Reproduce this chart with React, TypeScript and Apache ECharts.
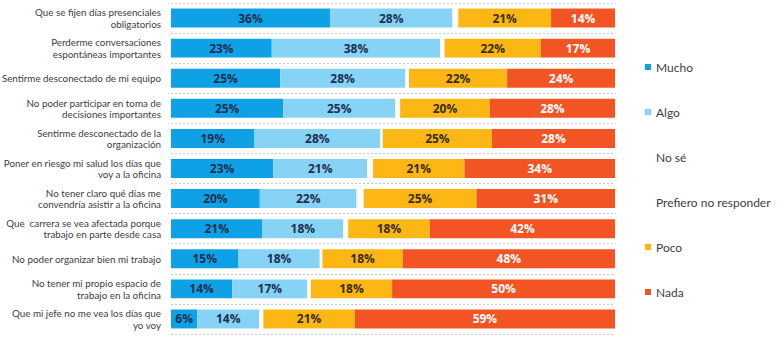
import React, { useEffect, useRef } from "react";
import * as echarts from "echarts";

const categories = [
  "Que se fijen días presenciales\nobligatorios",
  "Perderme conversaciones\nespontáneas importantes",
  "Sentirme desconectado de mi equipo",
  "No poder participar en toma de\ndecisiones importantes",
  "Sentirme desconectado de la\norganización",
  "Poner en riesgo mi salud los días que\nvoy a la oficina",
  "No tener claro qué días me\nconvendría asistir a la oficina",
  "Que  carrera se vea afectada porque\ntrabajo en parte desde casa",
  "No poder organizar bien mi trabajo",
  "No tener mi propio espacio de\ntrabajo en la oficina",
  "Que mi jefe no me vea los días que\nyo voy",
];

const mucho = [35.8, 22.7, 24.6, 25.3, 18.8, 23.0, 20.0, 20.6, 15.2, 13.8, 5.9];
const algo = [27.6, 37.9, 28.1, 25.2, 28.3, 21.2, 21.8, 18.2, 18.3, 16.9, 14.0];
const noSe = [0.8, 0.6, 0.5, 0.6, 0.4, 0.8, 1.0, 0.7, 0.4, 0.5, 0.5];
const prefiero = [0.5, 0.4, 0.4, 0.5, 0.2, 0.5, 0.6, 0.4, 0.2, 0.3, 0.4];
const poco = [20.9, 21.7, 22.1, 20.2, 24.6, 20.6, 25.4, 18.4, 18.1, 18.3, 20.6];
const nada = [14.4, 16.7, 24.3, 28.2, 27.7, 33.9, 31.2, 41.7, 47.8, 50.2, 58.6];

const seriesNames = ["Mucho", "Algo", "No sé", "Prefiero no responder", "Poco", "Nada"];

export default function App() {
  const ref = useRef<HTMLDivElement>(null);

  useEffect(() => {
    if (!ref.current) return;
    const chart = echarts.init(ref.current, undefined, { renderer: "svg" });
    const labelFont = "'Open Sans', 'Noto Sans', sans-serif";
    const textFont = "Lato, 'Noto Sans', sans-serif";
    const mkLabel = (color: string) => ({
      show: true,
      position: "inside" as const,
      color,
      fontFamily: labelFont,
      fontWeight: "bold" as const,
      fontSize: 12,
      formatter: (p: any) => Math.round(p.value) + "%",
    });
    const dataSets = [mucho, algo, noSe, prefiero, poco, nada];
    const colors = ["#0ea1e6", "#86d3f6", "#ffffff", "#ffffff", "#fdb714", "#f25424"];
    const labelColors = ["#1c2f4f", "#1c2f4f", "", "", "#3a2c05", "#ffffff"];
    const series = dataSets.map((d, i) => ({
      name: seriesNames[i],
      type: "bar" as const,
      stack: "total",
      barCategoryGap: "37%",
      data: d,
      itemStyle: { color: colors[i] },
      label: labelColors[i] ? mkLabel(labelColors[i]) : { show: false },
      emphasis: { disabled: true },
    }));
    chart.setOption({
      animation: false,
      textStyle: { fontFamily: textFont },
      grid: { left: 171, right: 163, top: 3, height: 331, outerBoundsMode: "none", containLabel: false },
      legend: {
        orient: "vertical",
        left: 645,
        top: 61,
        padding: 0,
        itemWidth: 6,
        itemHeight: 6,
        itemGap: 33,
        icon: "rect",
        data: seriesNames,
        textStyle: { color: "#404040", fontSize: 12, fontFamily: textFont },
      },
      xAxis: {
        type: "value",
        min: 0,
        max: 100,
        show: false,
      },
      yAxis: {
        type: "category",
        inverse: true,
        data: categories,
        axisLine: { show: false },
        axisTick: { show: false },
        splitLine: {
          show: true,
          interval: 0,
          lineStyle: { color: "#c8c8c8", type: [2, 2], width: 1 },
        },
        axisLabel: {
          interval: 0,
          margin: 10,
          color: "#404040",
          fontSize: 9.8,
          lineHeight: 11.5,
          align: "right",
          fontFamily: textFont,
        },
      },
      series,
    });
    return () => chart.dispose();
  }, []);

  return (
    <div
      ref={ref}
      style={{ position: "fixed", left: 0, top: 0, width: 778, height: 340, background: "#fff" }}
    />
  );
}
